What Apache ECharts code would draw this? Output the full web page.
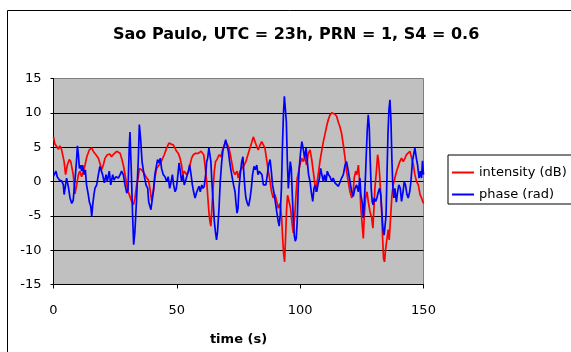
<!DOCTYPE html>
<html>
<head>
<meta charset="utf-8">
<script src="https://cdn.jsdelivr.net/npm/echarts@6/dist/echarts.min.js"></script>
<style>
  html, body { margin: 0; padding: 0; background: #fff; }
  #chart { width: 571px; height: 352px; }
</style>
</head>
<body>
<div id="chart"></div>
<script>
const titleText = "Sao Paulo, UTC = 23h, PRN = 1, S4 = 0.6";
const xTicks = [0, 50, 100, 150];
const yTicks = [-15, -10, -5, 0, 5, 10, 15];

// intensity (dB)
const intensityTime = [
  0, 0.5, 1.3, 2.0, 2.6, 3.3, 4.3, 4.9, 5.6, 6.4, 7.0, 8.0, 8.7, 9.4, 10.1, 10.7, 11.4, 12.1, 12.8, 13.5,
  14.5, 15.5, 16.1, 17.2, 18.2, 18.8, 19.5, 20.2, 20.9, 21.8, 22.9, 23.5, 24.2, 24.9, 25.6, 26.3, 27.0, 27.6, 28.3, 29.0,
  29.7, 30.3, 31.0, 31.7, 32.4, 33.0, 33.7, 34.3, 34.8, 35.7, 36.7, 37.8, 38.5, 39.1, 39.8, 40.5, 41.1, 41.8, 42.8, 43.8,
  44.9, 45.9, 46.8, 47.6, 48.6, 49.2, 49.9, 50.6, 51.3, 51.9, 52.4, 53.0, 54.0, 54.7, 55.3, 56.0, 56.7, 57.6, 58.7, 59.8,
  60.3, 60.9, 61.4, 62.1, 62.5, 63.0, 63.4, 63.8, 64.2, 64.7, 65.2, 65.7, 66.3, 67.1, 67.9, 68.4, 69.2, 69.8, 70.6, 71.1,
  71.7, 72.2, 72.9, 73.6, 74.4, 74.9, 75.6, 76.3, 77.0, 78.0, 79.0, 79.7, 80.3, 81.0, 81.7, 82.4, 83.0, 83.7, 84.4, 85.1,
  85.7, 86.4, 87.1, 87.8, 88.4, 89.1, 89.8, 90.5, 91.1, 91.8, 92.5, 92.9, 93.3, 93.7, 94.1, 94.5, 94.9, 95.6, 96.1, 96.7,
  97.2, 97.8, 98.3, 98.8, 99.4, 99.9, 100.6, 101.3, 101.9, 102.6, 103.3, 104.0, 104.6, 105.3, 106.0, 106.4, 106.9, 107.5, 108.0, 108.7,
  109.4, 110.0, 110.7, 111.4, 112.1, 112.8, 113.4, 114.1, 114.8, 115.5, 116.1, 116.8, 117.5, 118.2, 118.8, 119.5, 120.2, 120.9, 121.5, 121.9,
  122.5, 123.0, 123.6, 124.1, 124.6, 125.2, 125.6, 126.0, 126.5, 127.1, 127.6, 128.3, 129.0, 129.5, 129.9, 130.3, 130.9, 131.4, 131.8, 132.2,
  132.6, 133.0, 133.4, 133.8, 134.2, 134.6, 135.2, 135.7, 136.1, 136.7, 137.2, 137.7, 138.4, 139.1, 139.8, 140.4, 141.1, 141.8, 142.5, 143.1,
  143.8, 144.5, 145.2, 145.9, 146.5, 147.2, 147.9, 148.6, 149.2, 150
];
const intensityDb = [
  6.5, 5.5, 5.1, 4.7, 5.2, 4.6, 2.9, 1.0, 2.4, 3.2, 2.9, 1.0, -1.8, -0.5, 1.0, 1.5, 0.7, 1.5, 2.4, 3.6,
  4.6, 4.9, 4.4, 3.9, 3.4, 2.7, 1.7, 2.4, 3.4, 3.9, 4.0, 3.6, 3.9, 4.1, 4.4, 4.6, 4.1, 3.4, 2.4, 1.0,
  -0.5, -1.5, -2.2, -2.9, -3.4, -2.5, -0.5, 0.5, 1.9, 1.7, 1.2, 0.5, 0.2, -1.0, -2.8, -1.5, 0.5, 1.9, 2.4, 3.0,
  3.9, 4.9, 5.6, 5.8, 5.3, 4.9, 4.4, 4.1, 3.4, 2.4, 1.0, 1.5, 1.0, 1.5, 2.4, 3.4, 3.9, 4.1, 4.1, 4.4,
  4.6, 3.9, 2.4, 0, -2, -4.4, -5.8, -6.5, -4, -1, 1.5, 2.9, 3.2, 3.9, 3.6, 4.4, 5.3, 5.8, 5.3, 4.9,
  3.9, 2.9, 1.5, 1.0, 1.5, 0.5, 1.5, 1.9, 2.2, 2.9, 4.1, 4.9, 5.6, 6.5, 5.8, 5.1, 4.6, 5.3, 5.8, 5.6,
  4.9, 3.2, 1.5, 0, -1.5, -2.4, -1.9, -2.9, -3.9, -3.2, -5.3, -8.3, -10.5, -11.7, -8, -4, -2.0, -1.9, -3.9, -6.1,
  -7.5, -5, -2, 0.5, 1.5, 2.4, 3.4, 2.9, 3.6, 2.4, 4.1, 4.6, 3.4, 1.5, -0.5, -1.5, 0, 1.5, 2.9, 4.4,
  5.8, 6.8, 8.0, 9.0, 9.7, 10.0, 10.0, 9.8, 9.5, 8.6, 8.0, 7.0, 5.3, 3.4, 1.5, 0, -1.5, -2.4, -1.5, 0.5,
  1.5, 1.0, 2.4, 0, -3.9, -6.5, -8.3, -5, -2.4, -1.5, -2.9, -4.4, -5.3, -6.8, -4, -1, 1.5, 3.9, 2.9, 1.0,
  -1.5, -4, -8, -11.2, -11.7, -10, -8.3, -7, -8.5, -5, -2, -0.5, 0.5, 1.5, 1.5, 2.9, 3.4, 2.9, 3.4, 3.9,
  4.1, 4.4, 3.4, 2.4, 1.0, 0, -0.5, -1.9, -2.4, -3.2
];

// phase (rad)
const phaseTime = [
  0, 0.5, 1.0, 1.5, 2.4, 3.3, 4.0, 4.3, 4.7, 5.3, 6.0, 6.7, 7.4, 8.0, 8.4, 8.9, 9.4, 9.7, 10.1, 10.5,
  11.0, 11.4, 11.8, 12.4, 12.9, 13.4, 14.1, 14.5, 15.1, 15.5, 15.9, 16.4, 16.8, 17.5, 18.2, 18.8, 19.2, 19.9, 20.6, 21.3,
  21.8, 22.6, 23.2, 24.0, 24.5, 25.3, 26.3, 27.0, 27.6, 28.3, 29.0, 29.7, 30.2, 30.7, 31.0, 31.5, 32.1, 32.5, 33.0, 33.7,
  34.4, 34.8, 35.3, 35.9, 36.7, 37.5, 38.2, 38.6, 39.0, 39.5, 40.1, 40.6, 41.1, 41.8, 42.2, 42.8, 43.3, 43.8, 44.5, 45.2,
  45.9, 46.5, 47.1, 47.6, 48.2, 48.7, 49.3, 49.8, 50.3, 50.9, 51.4, 51.9, 52.5, 53.0, 53.6, 54.1, 54.7, 55.2, 55.7, 56.3,
  56.8, 57.4, 57.9, 58.4, 59.0, 59.5, 60.1, 60.6, 61.1, 61.7, 62.1, 62.5, 63.0, 63.4, 63.8, 64.2, 64.7, 65.2, 65.7, 66.1,
  66.5, 67.1, 67.6, 68.2, 68.7, 69.2, 69.8, 70.3, 70.9, 71.4, 72.0, 72.5, 73.0, 73.6, 74.0, 74.4, 74.8, 75.2, 75.7, 76.3,
  76.8, 77.2, 77.6, 78.0, 78.6, 79.1, 79.7, 80.2, 80.7, 81.3, 81.8, 82.4, 82.9, 83.4, 84.0, 84.5, 85.1, 85.6, 86.1, 86.7,
  87.2, 87.8, 88.3, 88.8, 89.4, 89.9, 90.5, 91.1, 91.5, 91.9, 92.4, 92.8, 93.2, 93.6, 94.0, 94.4, 94.8, 95.2, 95.6, 96.0,
  96.4, 96.8, 97.2, 97.6, 98.0, 98.4, 98.8, 99.2, 99.6, 100.2, 100.7, 101.3, 101.8, 102.4, 102.9, 103.4, 104.0, 104.5, 105.1, 105.6,
  106.1, 106.7, 107.2, 107.8, 108.3, 108.8, 109.4, 109.9, 110.5, 111.0, 111.5, 112.1, 112.8, 113.4, 114.1, 114.8, 115.5, 116.1, 116.8, 117.5,
  118.2, 118.8, 119.5, 120.2, 120.9, 121.5, 122.2, 122.9, 123.6, 124.2, 124.6, 125.2, 125.6, 126.0, 126.4, 126.8, 127.2, 127.6, 128.0, 128.4,
  128.8, 129.2, 129.6, 130.0, 130.6, 131.1, 131.7, 132.2, 132.7, 133.2, 133.6, 134.0, 134.4, 134.8, 135.2, 135.6, 136.0, 136.4, 136.8, 137.2,
  137.6, 138.0, 138.4, 139.0, 139.5, 140.0, 140.6, 141.1, 141.7, 142.2, 142.7, 143.3, 143.8, 144.4, 144.9, 145.5, 146.0, 146.5, 147.1, 147.6,
  148.2, 148.7, 149.2, 149.6, 150
];
const phaseRad = [
  0.8, 1.0, 1.5, 0.7, 0.2, 0.1, -0.5, -1.9, -1.0, 0.5, -0.7, -2.4, -3.2, -2.7, -1.0, 1.0, 3.4, 5.2, 3.9, 1.9,
  2.4, 1.5, 2.4, 1.0, 1.7, -0.5, -1.9, -2.9, -3.6, -5.1, -3.4, -1.9, -1.0, -0.5, 1.0, 2.2, 2.4, 1.0, -0.2, 1.0,
  0, 1.5, -0.5, 1.0, 0.2, 0.7, 0.5, 1.0, 1.5, 1.0, -0.5, -1.7, -1.2, 4.9, 7.2, 2.0, -5.3, -9.2, -7.3, -2.4,
  3.4, 8.3, 6.3, 2.9, 1.0, -0.5, -1.0, -3.0, -2.9, -4.1, -3.9, -1.0, 1.0, 2.4, 3.2, 2.7, 3.4, 1.9, 1.0, 0.7,
  0, 0.7, -1.0, -0.2, 1.0, -0.5, -1.5, -1.0, 0.5, 2.7, 1.5, 0, 1.0, -0.5, 0.2, 0, 1.5, 2.4, 1.2, -0.5,
  -1.5, -2.4, -1.7, -1.2, -0.7, -1.5, -0.5, -1.0, -0.7, 1.0, 2.9, 3.4, 4.9, 5.1, 2.9, 0, -2.9, -5.8, -7.5, -8.5,
  -7.3, -3.9, 0, 2.9, 4.6, 5.1, 6.1, 5.3, 4.4, 2.9, 1.5, 0.5, -0.5, -1.5, -3.2, -4.6, -3.9, -1.0, 1.0, 2.9,
  3.6, 1.0, -1.0, -2.4, -3.2, -3.6, -2.4, -1.0, 1.0, 2.2, 1.7, 2.4, 1.0, 1.5, 1.7, 1.0, -0.5, -0.7, -0.5, 1.0,
  2.4, 3.2, 1.5, -0.5, -1.7, -2.9, -4.4, -5.8, -6.5, -4.9, -1.0, 4.9, 9.7, 12.4, 12.6, 8.7, 2.9, -1.0, 1.0, 2.9,
  1.9, -1.9, -5.3, -7.8, -8.7, -8.3, -5.8, -1.0, 1.9, 4.4, 5.8, 4.6, 3.4, 4.9, 2.9, 1.0, 0, -1.5, -2.9, -1.0,
  -0.5, -1.5, -0.5, 0.5, 1.9, 1.0, 0, 1.0, 0, 1.5, 1.0, 0.7, 0, 0.5, -0.2, 0, -0.7, -0.5, 0.5, 1.0,
  2.4, 2.9, 1.5, 0, -1.5, -2.2, -1.0, -0.5, -1.5, 0.5, -1.9, -3.2, -5.3, -3, 0, 3.9, 7.5, 9.7, 8, 3,
  -1, -2.9, -3.4, -2.4, -2.9, -2.4, -1.5, -1.0, -2.0, -5, -7.0, -7.8, -6.5, -5, 1, 7, 10.5, 11.9, 9, 3,
  -1, -2.4, -1.0, -3.0, -1.5, -0.5, -1.0, -2.9, -1.5, 0, -0.5, -1.9, -2.4, -1.5, 0, 2.9, 3.9, 4.9, 3.4, 2.4,
  0.5, 1.5, 0.5, 3.0, 1.0
];

const font = '"DejaVu Sans", sans-serif';
const chart = echarts.init(document.getElementById("chart"));

chart.setOption({
  animation: false,
  backgroundColor: "#fff",
  textStyle: { fontFamily: font },
  title: {
    text: titleText,
    left: 108,
    top: 22,
    textStyle: { fontFamily: font, fontSize: 16, fontWeight: "bold", color: "#000" }
  },
  graphic: [
    {
      type: "rect",
      shape: { x: 7.5, y: 10.5, width: 700, height: 500 },
      style: { fill: "none", stroke: "#000", lineWidth: 1 },
      silent: true,
      z: 0
    }
  ],
  legend: {
    orient: "vertical",
    left: 448,
    top: 155,
    padding: [11, 20, 3, 4],
    itemGap: 9,
    itemWidth: 22,
    itemHeight: 2,
    icon: "rect",
    borderColor: "#000",
    borderWidth: 1,
    backgroundColor: "#fff",
    textStyle: { fontFamily: font, fontSize: 13, color: "#000" },
    data: ["intensity (dB)", "phase (rad)"]
  },
  grid: {
    left: 53.5,
    right: 147.5,
    top: 78.5,
    bottom: 67.5,
    show: true,
    backgroundColor: "#c0c0c0",
    borderColor: "#808080",
    borderWidth: 1
  },
  xAxis: {
    type: "value",
    min: xTicks[0],
    max: xTicks[xTicks.length - 1],
    interval: 50,
    name: "time (s)",
    nameLocation: "middle",
    nameGap: 49,
    nameTextStyle: { fontFamily: font, fontSize: 13, fontWeight: "bold", color: "#000" },
    axisLine: { show: true, onZero: false, lineStyle: { color: "#000", width: 1 } },
    axisTick: { show: true, length: 4, lineStyle: { color: "#000" } },
    axisLabel: { fontSize: 13, color: "#000", margin: 20 },
    splitLine: { show: false }
  },
  yAxis: {
    type: "value",
    min: yTicks[0],
    max: yTicks[yTicks.length - 1],
    interval: 5,
    axisLine: { show: true, lineStyle: { color: "#000", width: 1 } },
    axisTick: { show: true, length: 3, lineStyle: { color: "#000" } },
    axisLabel: { fontSize: 13, color: "#000", margin: 12 },
    splitLine: { show: true, showMinLine: false, showMaxLine: false, lineStyle: { color: "#000", width: 1 } }
  },
  series: [
    {
      name: "intensity (dB)",
      type: "line",
      showSymbol: false,
      color: "#ff0000",
      lineStyle: { color: "#ff0000", width: 1.7 },
      data: intensityTime.map((t, i) => [t, intensityDb[i]])
    },
    {
      name: "phase (rad)",
      type: "line",
      showSymbol: false,
      color: "#0000ff",
      lineStyle: { color: "#0000ff", width: 1.7 },
      data: phaseTime.map((t, i) => [t, phaseRad[i]])
    }
  ]
});
</script>
</body>
</html>
